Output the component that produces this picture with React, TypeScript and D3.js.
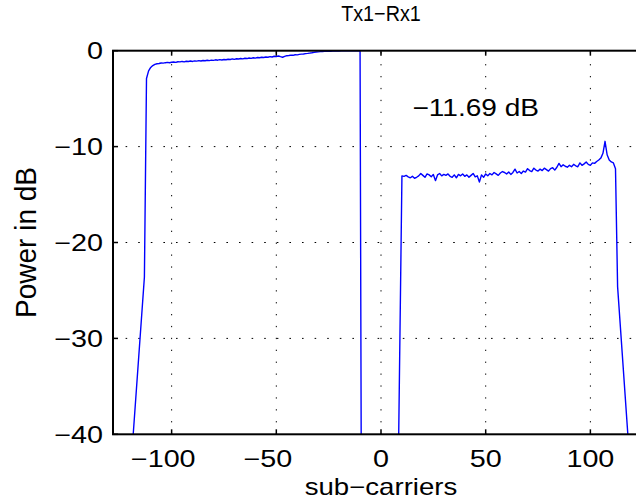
import React from "react";
import * as d3 from "d3";

// ---- data ----
const xTicks = [-100, -50, 0, 50, 100];
const yTicks = [0, -10, -20, -30, -40];

const edgeLeftX = [-119, -113];
const edgeLeftY = [-42, -23.6];
const leftStart = -112;
const leftBlock = [
  -2.9, -2.1, -1.75, -1.55, -1.42, -1.36, -1.33, -1.28, -1.3, -1.25,
  -1.22, -1.26, -1.2, -1.18, -1.22, -1.15, -1.17, -1.12, -1.16, -1.1,
  -1.13, -1.08, -1.12, -1.06, -1.09, -1.03, -1.07, -1.02, -1.05, -1.0,
  -1.04, -0.98, -1.01, -0.95, -0.99, -0.93, -0.97, -0.92, -0.94, -0.89,
  -0.92, -0.86, -0.9, -0.84, -0.87, -0.81, -0.85, -0.79, -0.82, -0.76,
  -0.8, -0.74, -0.77, -0.71, -0.74, -0.68, -0.71, -0.66, -0.68, -0.62,
  -0.66, -0.58, -0.6, -0.55, -0.62, -0.68, -0.6, -0.52, -0.5, -0.46,
  -0.48, -0.42, -0.44, -0.38, -0.36, -0.34, -0.3, -0.28, -0.25, -0.22,
  -0.18, -0.14, -0.12, -0.1, -0.09, -0.07, -0.06, -0.06, -0.05, -0.04,
  -0.04, -0.03, -0.03, -0.02, -0.02, -0.02, -0.01, -0.01, -0.01, -0.01,
  0, 0, 0,
];
const gapX = [-9, 8];
const gapY = [-75, -48];
const rightStart = 10;
const rightBlock = [
  -13.05, -13.1, -13.0, -13.15, -13.25, -13.1, -13.3, -13.2, -13.05, -12.8,
  -13.0, -13.2, -12.85, -12.95, -13.15, -12.9, -13.55, -12.95, -12.8, -13.05,
  -12.9, -13.0, -12.85, -13.1, -13.2, -12.95, -13.25, -12.9, -13.05, -12.85,
  -13.1, -12.95, -13.2, -13.0, -12.8, -13.15, -13.05, -13.7, -12.95, -13.2,
  -12.85, -13.05, -12.8, -12.95, -12.7, -12.85, -13.0, -12.75, -12.6, -12.7,
  -12.85, -12.65, -12.9, -12.7, -12.35, -12.75, -12.6, -12.8, -12.55, -12.65,
  -12.3, -12.5, -12.6, -12.25, -12.45, -12.55, -12.35, -12.5, -12.25, -12.4,
  -12.55, -12.3, -12.2, -12.45, -12.15, -11.75, -12.1, -11.9, -12.05, -12.15,
  -11.95, -12.1, -11.85, -12.0, -12.1, -11.7, -11.95, -11.8, -11.6, -11.85,
  -11.95, -11.7, -11.75, -11.55, -11.4, -11.2, -10.7, -9.45, -10.85, -11.4,
  -11.6, -11.7, -12.3,
];
const edgeRightX = [113, 119];
const edgeRightY = [-24.6, -43.5];

const titleText = "Tx1\u2212Rx1";
const xLabel = "sub\u2212carriers";
const yLabel = "Power in dB";
const noteText = "\u221211.69 dB";
const noteX = 15;
const noteY = -5.85;

// ---- layout ----
const W = 636;
const H = 500;
const L = 113;
const R = 649;
const T = 50.7;
const B = 434.3;
const FONT = "'Liberation Sans', Arial, Helvetica, sans-serif";

const fmt = (v: number) => (v < 0 ? "\u2212" + Math.abs(v) : String(v));

export default function App() {
  const x = d3.scaleLinear().domain([-128, 128]).range([L, R]);
  const y = d3.scaleLinear().domain([-40, 0]).range([B, T]);

  const pts: [number, number][] = [];
  edgeLeftX.forEach((v, i) => pts.push([v, edgeLeftY[i]]));
  leftBlock.forEach((v, i) => pts.push([leftStart + i, v]));
  gapX.forEach((v, i) => pts.push([v, gapY[i]]));
  rightBlock.forEach((v, i) => pts.push([rightStart + i, v]));
  edgeRightX.forEach((v, i) => pts.push([v, edgeRightY[i]]));

  const line = d3
    .line<[number, number]>()
    .x((d) => x(d[0]))
    .y((d) => y(d[1]));

  const tickFs = 23;
  const sx = 1.25;
  const digitW = 0.556 * tickFs;

  return (
    <svg
      width={W}
      height={H}
      style={{ position: "absolute", left: 0, top: 0, background: "#fff" }}
      fontFamily={FONT}
    >
      <rect x={0} y={0} width={W} height={H} fill="#fff" />
      <defs>
        <clipPath id="plotclip">
          <rect x={L} y={T} width={R - L} height={B - T} />
        </clipPath>
      </defs>

      {/* grid */}
      {xTicks.map((t) => (
        <line
          key={"gx" + t}
          x1={x(t)}
          x2={x(t)}
          y1={B}
          y2={T}
          stroke="#000"
          strokeWidth={1}
          strokeDasharray="1.3 10.6"
        />
      ))}
      {yTicks
        .filter((t) => t !== 0 && t !== -40)
        .map((t) => (
          <line
            key={"gy" + t}
            x1={L}
            x2={R}
            y1={y(t)}
            y2={y(t)}
            stroke="#000"
            strokeWidth={1}
            strokeDasharray="1.6 11"
          />
        ))}

      {/* data */}
      <path
        d={line(pts) || ""}
        fill="none"
        stroke="#0000ff"
        strokeWidth={1.4}
        strokeLinejoin="round"
        clipPath="url(#plotclip)"
      />

      {/* ticks */}
      {xTicks.map((t) => (
        <g key={"tx" + t}>
          <line x1={x(t)} x2={x(t)} y1={B} y2={B - 5} stroke="#000" strokeWidth={1.5} />
          <line x1={x(t)} x2={x(t)} y1={T} y2={T + 5} stroke="#000" strokeWidth={1.5} />
        </g>
      ))}
      {yTicks.map((t) => (
        <g key={"ty" + t}>
          <line x1={L} x2={L + 5} y1={y(t)} y2={y(t)} stroke="#000" strokeWidth={1.5} />
        </g>
      ))}

      {/* box */}
      <rect x={L} y={T} width={R - L} height={B - T} fill="none" stroke="#000" strokeWidth={2} />

      {/* x tick labels: digits centred on tick, minus hangs left */}
      {xTicks.map((t) => {
        const digits = String(Math.abs(t));
        const half = (digits.length * digitW) / 2;
        return (
          <g key={"lx" + t} transform={`translate(${x(t)},467) scale(${sx},1)`}>
            <text x={0} y={0} fontSize={tickFs} textAnchor="middle" fill="#000">
              {digits}
            </text>
            {t < 0 && (
              <text x={-half} y={0} fontSize={tickFs} textAnchor="end" fill="#000">
                {"\u2212"}
              </text>
            )}
          </g>
        );
      })}

      {/* y tick labels */}
      {yTicks.map((t) => (
        <g key={"ly" + t} transform={`translate(103,${y(t) + 8.5}) scale(${sx},1)`}>
          <text x={0} y={0} fontSize={tickFs} textAnchor="end" fill="#000">
            {fmt(t)}
          </text>
        </g>
      ))}

      {/* title */}
      <g transform={`translate(${(L + R) / 2},21) scale(0.9,1)`}>
        <text x={0} y={0} fontSize={22} textAnchor="middle" fill="#000">
          {titleText}
        </text>
      </g>

      {/* x label */}
      <g transform={`translate(${(L + R) / 2},495) scale(1.2,1)`}>
        <text x={0} y={0} fontSize={23} textAnchor="middle" fill="#000">
          {xLabel}
        </text>
      </g>

      {/* y label */}
      <g transform={`translate(36,${(T + B) / 2}) scale(1.05,1) rotate(-90)`}>
        <text x={0} y={0} fontSize={28} textAnchor="middle" fill="#000">
          {yLabel}
        </text>
      </g>

      {/* annotation */}
      <g transform={`translate(${x(noteX)},${y(noteY) + 9}) scale(1.17,1)`}>
        <text x={0} y={0} fontSize={24} textAnchor="start" fill="#000">
          {noteText}
        </text>
      </g>
    </svg>
  );
}
